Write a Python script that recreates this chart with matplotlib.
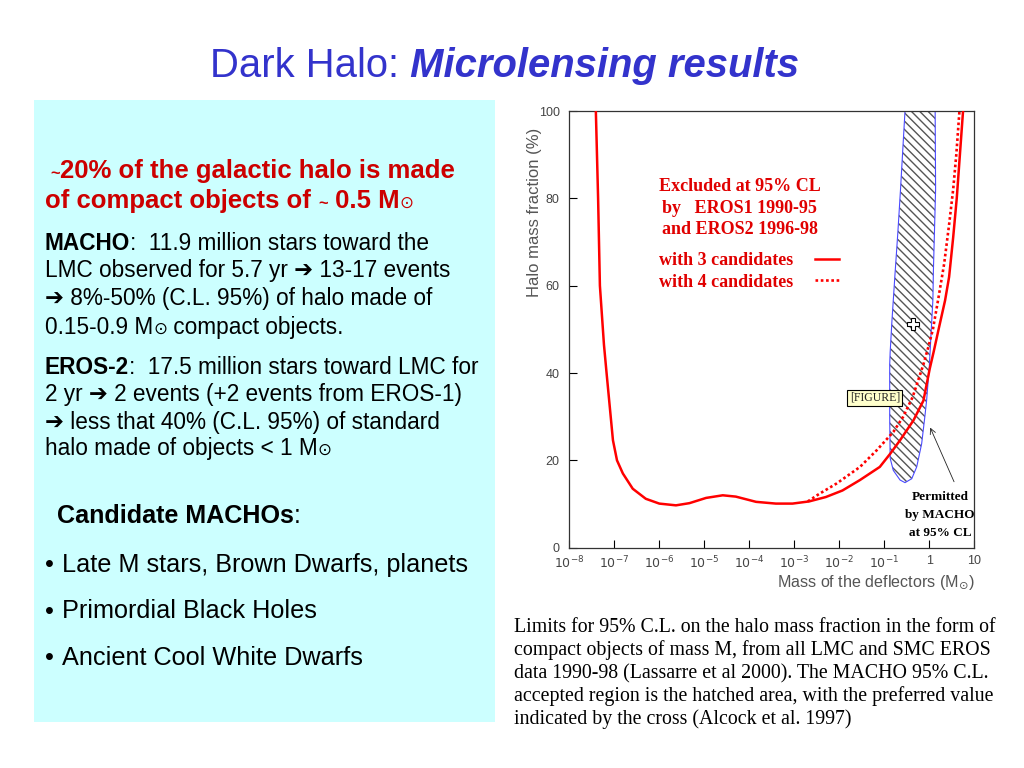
import numpy as np
import matplotlib
matplotlib.use('Agg')
import matplotlib.pyplot as plt
from matplotlib.patches import Rectangle

# --- data (log10 of mass in solar masses, halo fraction in %) ---
solid_logm = [-7.41, -7.36, -7.32, -7.23, -7.17, -7.10, -7.03, -6.94, -6.81, -6.59,
              -6.30, -6.00, -5.63, -5.33, -4.96, -4.59, -4.30, -3.85, -3.41, -3.04,
              -2.67, -2.30, -1.93, -1.54, -1.10, -0.87, -0.65, -0.35, -0.13, 0.01,
              0.10, 0.20, 0.35, 0.44, 0.53, 0.61, 0.68, 0.75]
solid_frac = [100, 80, 60, 46.5, 39.8, 32.2, 24.6, 20.0, 17.0, 13.5,
              11.2, 10.1, 9.7, 10.2, 11.4, 12.0, 11.7, 10.5, 10.1, 10.1,
              10.6, 11.6, 13.1, 15.5, 18.5, 21.5, 24.6, 29.2, 33.7, 41.0,
              45.0, 49.7, 56.6, 62.0, 71.0, 80.0, 90.0, 100]

dotted_logm = [-2.70, -2.45, -2.06, -1.54, -1.17, -0.80, -0.58, -0.37, -0.13, -0.02,
               0.08, 0.20, 0.33, 0.44, 0.53, 0.60, 0.67]
dotted_frac = [10.6, 12.3, 14.7, 18.5, 22.3, 26.5, 30.0, 34.5, 42.0, 46.0,
               50.0, 57.0, 65.0, 74.0, 82.0, 90.0, 100]

macho_logm = [-0.54, 0.13, 0.14, 0.09, 0.08, 0.04, 0.00, -0.06, -0.10, -0.17, -0.28,
              -0.39, -0.54, -0.65, -0.80, -0.87, -0.88, -0.88, -0.87, -0.83, -0.76,
              -0.70, -0.64, -0.54]
macho_frac = [100, 100, 82, 63, 56.8, 49.2, 41.4, 33.7, 29.9, 23.8, 18.5,
              15.8, 14.9, 15.5, 17.7, 20.5, 30, 42, 44.7, 52, 63,
              72, 82, 100]

best_logm, best_frac = -0.37, 51.2

x_ticks = [1e-8, 1e-7, 1e-6, 1e-5, 1e-4, 1e-3, 1e-2, 1e-1, 1, 10]
x_ticklabels = ['$10^{-8}$', '$10^{-7}$', '$10^{-6}$', '$10^{-5}$', '$10^{-4}$',
                '$10^{-3}$', '$10^{-2}$', '$10^{-1}$', '1', '10']
y_ticks = [0, 20, 40, 60, 80, 100]

excluded_lines = ['Excluded at 95% CL', 'by   EROS1 1990-95', 'and EROS2 1996-98']
permitted_lines = ['Permitted', 'by MACHO', 'at 95% CL']
caption_lines = [
    'Limits for 95% C.L. on the halo mass fraction in the form of',
    'compact objects of mass M, from all LMC and SMC EROS',
    'data 1990-98 (Lassarre et al 2000). The MACHO 95% C.L.',
    'accepted region is the hatched area, with the preferred value',
    'indicated by the cross (Alcock et al. 1997)',
]
bullets = ['Late M stars, Brown Dwarfs, planets', 'Primordial Black Holes',
           'Ancient Cool White Dwarfs']

SANS = ['Liberation Sans', 'DejaVu Sans']
SERIF = ['Liberation Serif', 'DejaVu Serif']
W, H = 1024, 768
BLUE_T = '#3333cc'
RED_T = '#cc0000'


def fx(x):
    return x / W


def fy(y):
    return 1 - y / H


fig = plt.figure(figsize=(10.24, 7.68), dpi=100)
fig.patch.set_facecolor('white')
renderer = fig.canvas.get_renderer()


def runs(x, y, parts, family=SANS):
    # draw a line made of several styled pieces, one after the other
    for s, size, weight, style, color in parts:
        t = fig.text(fx(x), fy(y), s, fontsize=size, fontweight=weight,
                     fontstyle=style, color=color, family=family,
                     ha='left', va='baseline')
        x += t.get_window_extent(renderer).width


# title
runs(210, 77, [('Dark Halo:', 28.8, 'normal', 'normal', BLUE_T),
               (' Microlensing results', 28.8, 'bold', 'italic', BLUE_T)])

# cyan text panel
fig.add_artist(Rectangle((fx(34), fy(722)), (495 - 34) / W, (722 - 100) / H,
                         transform=fig.transFigure, facecolor='#ccffff',
                         edgecolor='none', zorder=0))

B, N, I = 'bold', 'normal', 'normal'
K = 'black'
HS = 18.5   # heading size
BS = 16.3   # body size
LS = 18.2   # list size
runs(50, 178, [('~', 12, B, I, RED_T), ('20% of the galactic halo is made', HS, B, I, RED_T)])
runs(45, 208, [('of compact objects of ', HS, B, I, RED_T), ('~', 12, B, I, RED_T),
               (' 0.5 M', HS, B, I, RED_T), ('\u2299', 12, N, I, RED_T)])

runs(45, 250, [('MACHO', BS, B, I, K), (':  11.9 million stars toward the', BS, N, I, K)])
runs(45, 277.5, [('LMC observed for 5.7 yr \u2794 13-17 events', BS, N, I, K)])
runs(45, 305.5, [('\u2794 8%-50% (C.L. 95%) of halo made of', BS, N, I, K)])
runs(45, 333.5, [('0.15-0.9 M', BS, N, I, K), ('\u2299', 12, N, I, K),
                 (' compact objects.', BS, N, I, K)])

runs(45, 373.5, [('EROS-2', BS, B, I, K), (':  17.5 million stars toward LMC for', BS, N, I, K)])
runs(45, 401, [('2 yr \u2794 2 events (+2 events from EROS-1)', BS, N, I, K)])
runs(45, 428.5, [('\u2794 less that 40% (C.L. 95%) of standard', BS, N, I, K)])
runs(45, 455, [('halo made of objects < 1 M', BS, N, I, K), ('\u2299', 12, N, I, K)])

runs(57, 523, [('Candidate MACHOs', 18.1, B, I, K), (':', 18.1, N, I, K)])
for yb, s in zip([572, 618.5, 665], bullets):
    runs(45, yb, [('\u2022', LS, N, I, K)])
    runs(62, yb, [(s, LS, N, I, K)])

# caption
for yb, s in zip([631.7, 654.8, 678, 701.1, 724.3], caption_lines):
    runs(514, yb, [(s, 14.3, N, I, K)], family=SERIF)

# --- the chart ---
ax = fig.add_axes([fx(569.3), fy(547.7), 405 / W, 436.7 / H])
ax.set_xscale('log')
ax.set_xlim(1e-8, 10)
ax.set_ylim(0, 100)

mx = 10 ** np.array(macho_logm)
ax.fill(mx, macho_frac, facecolor='none', edgecolor='#555555',
        hatch='\\\\\\\\', linewidth=0, zorder=1)
ax.plot(mx, macho_frac, color='#4a4aff', lw=0.8, zorder=2)

l3, = ax.plot(10 ** np.array(solid_logm), solid_frac, color='#ff0000', lw=1.8,
              label='with 3 candidates', zorder=3)
l4, = ax.plot(10 ** np.array(dotted_logm), dotted_frac, color='#ff0000', lw=1.9,
              ls=(0, (1.0, 1.0)), label='with 4 candidates', zorder=3)

ax.plot([10 ** best_logm], [best_frac], marker='P', ms=9, mfc='white', mec='black',
        mew=0.8, zorder=4)

for yb, s in zip([81.6, 76.7, 71.9], excluded_lines):
    ax.text(10 ** -4.21, yb, s, ha='center', va='baseline', fontsize=13,
            fontweight='bold', color='#e00000', family=SERIF)

leg = ax.legend(handles=[l3, l4], loc='upper left', bbox_to_anchor=(0.222, 0.677),
                frameon=False, markerfirst=False, handlelength=1.3,
                handletextpad=1.2, labelspacing=0.25, borderpad=0, borderaxespad=0,
                prop={'family': SERIF, 'weight': 'bold', 'size': 13})
for t in leg.get_texts():
    t.set_color('#e00000')

for yb, s in zip([10.9, 6.7, 2.7], permitted_lines):
    ax.text(10 ** 0.24, yb, s, ha='center', va='baseline', fontsize=9.5,
            fontweight='bold', color='black', family=SERIF)

ax.text(10 ** -1.21, 34.3, '[FIGURE]', ha='center', va='center', fontsize=8.5,
        family=SERIF, color='#222222', zorder=5,
        bbox=dict(boxstyle='square,pad=0.2', facecolor='#ffffcc',
                  edgecolor='black', lw=0.8))

ax.annotate('', xy=(10 ** 0.02, 27.5), xytext=(10 ** 0.55, 15.1),
            arrowprops=dict(arrowstyle='->', lw=0.6, color='#222222',
                            shrinkA=0, shrinkB=0))

ax.set_xticks(x_ticks)
ax.set_xticklabels(x_ticklabels)
ax.minorticks_off()
ax.set_yticks(y_ticks)
ax.tick_params(direction='in', length=5.5, width=0.8, labelsize=9,
               labelcolor='#444444')
ax.tick_params(axis='x', pad=5)
ax.tick_params(axis='y', pad=7)
for lab in ax.get_xticklabels() + ax.get_yticklabels():
    lab.set_family(SANS)
for sp in ax.spines.values():
    sp.set_linewidth(0.9)
    sp.set_color('#333333')

ax.text(-0.087, 0.767, 'Halo mass fraction (%)', transform=ax.transAxes,
        rotation=90, ha='center', va='center', fontsize=12, color='#555555',
        family=SANS)
ax.text(1.0, -0.081, 'Mass of the deflectors (M$_{\\odot}$)', transform=ax.transAxes,
        ha='right', va='center', fontsize=11.6, color='#555555', family=SANS)

fig.savefig('out.png', dpi=100)
